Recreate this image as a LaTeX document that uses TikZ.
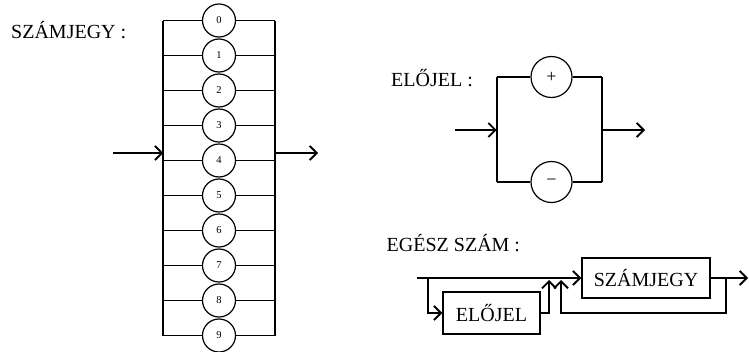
\documentclass[tikz,border=0pt]{standalone}
\usepackage{fontspec}
\setmainfont{Liberation Serif}
\usetikzlibrary{arrows.meta}
\begin{document}
\begin{tikzpicture}[x=1pt,y=-1pt,
  line/.style={line width=1.9pt},
  flow/.style={line, -{Straight Barb[length=7pt,width=14pt]}},
  digit/.style={circle, draw, line width=1.2pt, minimum size=33pt, inner sep=0pt,
    font=\fontsize{10.5}{12}\selectfont},
  sign/.style={circle, draw, line width=1.2pt, minimum size=41pt, inner sep=0pt,
    font=\fontsize{18}{20}\selectfont},
  term/.style={rectangle, draw, line width=1.5pt, inner sep=0pt,
    font=\fontsize{20}{24}\selectfont},
  title/.style={anchor=base west, inner sep=0pt, font=\fontsize{20}{24}\selectfont}]
\useasboundingbox (0,0) rectangle (749,351);

% --- SZÁMJEGY: ten parallel branches, one per digit
\node[title] (t1) at (11,38.3) {SZÁMJEGY :};
\foreach \i in {0,...,9}{
  \pgfmathsetmacro\yy{20.5+35*\i}
  \node[digit] (d\i) at (219,\yy) {\i};
  \coordinate (L\i) at (163.3,\yy);
  \coordinate (R\i) at (275,\yy);
  \draw[line] (L\i) -- (d\i);
  \draw[line] (d\i) -- (R\i);
}
\draw[line] (L0) -- (L9);
\draw[line] (R0) -- (R9);
\coordinate (dinA) at (113,153);
\coordinate (dinB) at (163.3,153);
\coordinate (doutA) at (275,153);
\coordinate (doutB) at (318,153);
\draw[flow] (dinA) -- (dinB);
\draw[flow] (doutA) -- (doutB);

% --- ELŐJEL: plus or minus
\node[title] (t2) at (391,86) {ELŐJEL :};
\node[sign] (plus) at (551.5,77) {\raisebox{-2pt}{+}};
\node[sign] (minus) at (551.5,182) {\raisebox{-4pt}{−}};
\coordinate (sLt) at (496.7,77);
\coordinate (sLb) at (496.7,182);
\coordinate (sRt) at (602,77);
\coordinate (sRb) at (602,182);
\draw[line] (sLt) -- (plus) -- (sRt);
\draw[line] (sLb) -- (minus) -- (sRb);
\draw[line] (sLt) -- (sLb);
\draw[line] (sRt) -- (sRb);
\coordinate (sinA) at (455,130);
\coordinate (sinB) at (496.7,130);
\coordinate (soutA) at (602,130);
\coordinate (soutB) at (645,130);
\draw[flow] (sinA) -- (sinB);
\draw[flow] (soutA) -- (soutB);

% --- EGÉSZ SZÁM: optional sign, then one or more digits
\node[title] (t3) at (386.5,251.7) {EGÉSZ SZÁM :};
\node[term, minimum width=128pt, minimum height=40pt] (szj) at (646,278) {SZÁMJEGY};
\node[term, minimum width=97pt, minimum height=42pt] (elj) at (491.5,313) {ELŐJEL};
\coordinate (start) at (417,278);
\coordinate (fork) at (428,278);
\coordinate (forkd) at (428,313);
\coordinate (ejout) at (549,313);
\coordinate (ejtip) at (549,280);
\coordinate (loopA) at (726,278);
\coordinate (loopB) at (726,313);
\coordinate (loopC) at (561,313);
\coordinate (looptip) at (561,280);
\coordinate (finish) at (748,278);
\draw[flow] (start) -- (szj.west);
\draw[flow] (fork) -- (forkd) -- (elj.west);
\draw[flow] (elj.east) -- (ejout) -- (ejtip);
\draw[flow] (szj.east) -- (finish);
\draw[flow] (loopA) -- (loopB) -- (loopC) -- (looptip);
\end{tikzpicture}
\end{document}
